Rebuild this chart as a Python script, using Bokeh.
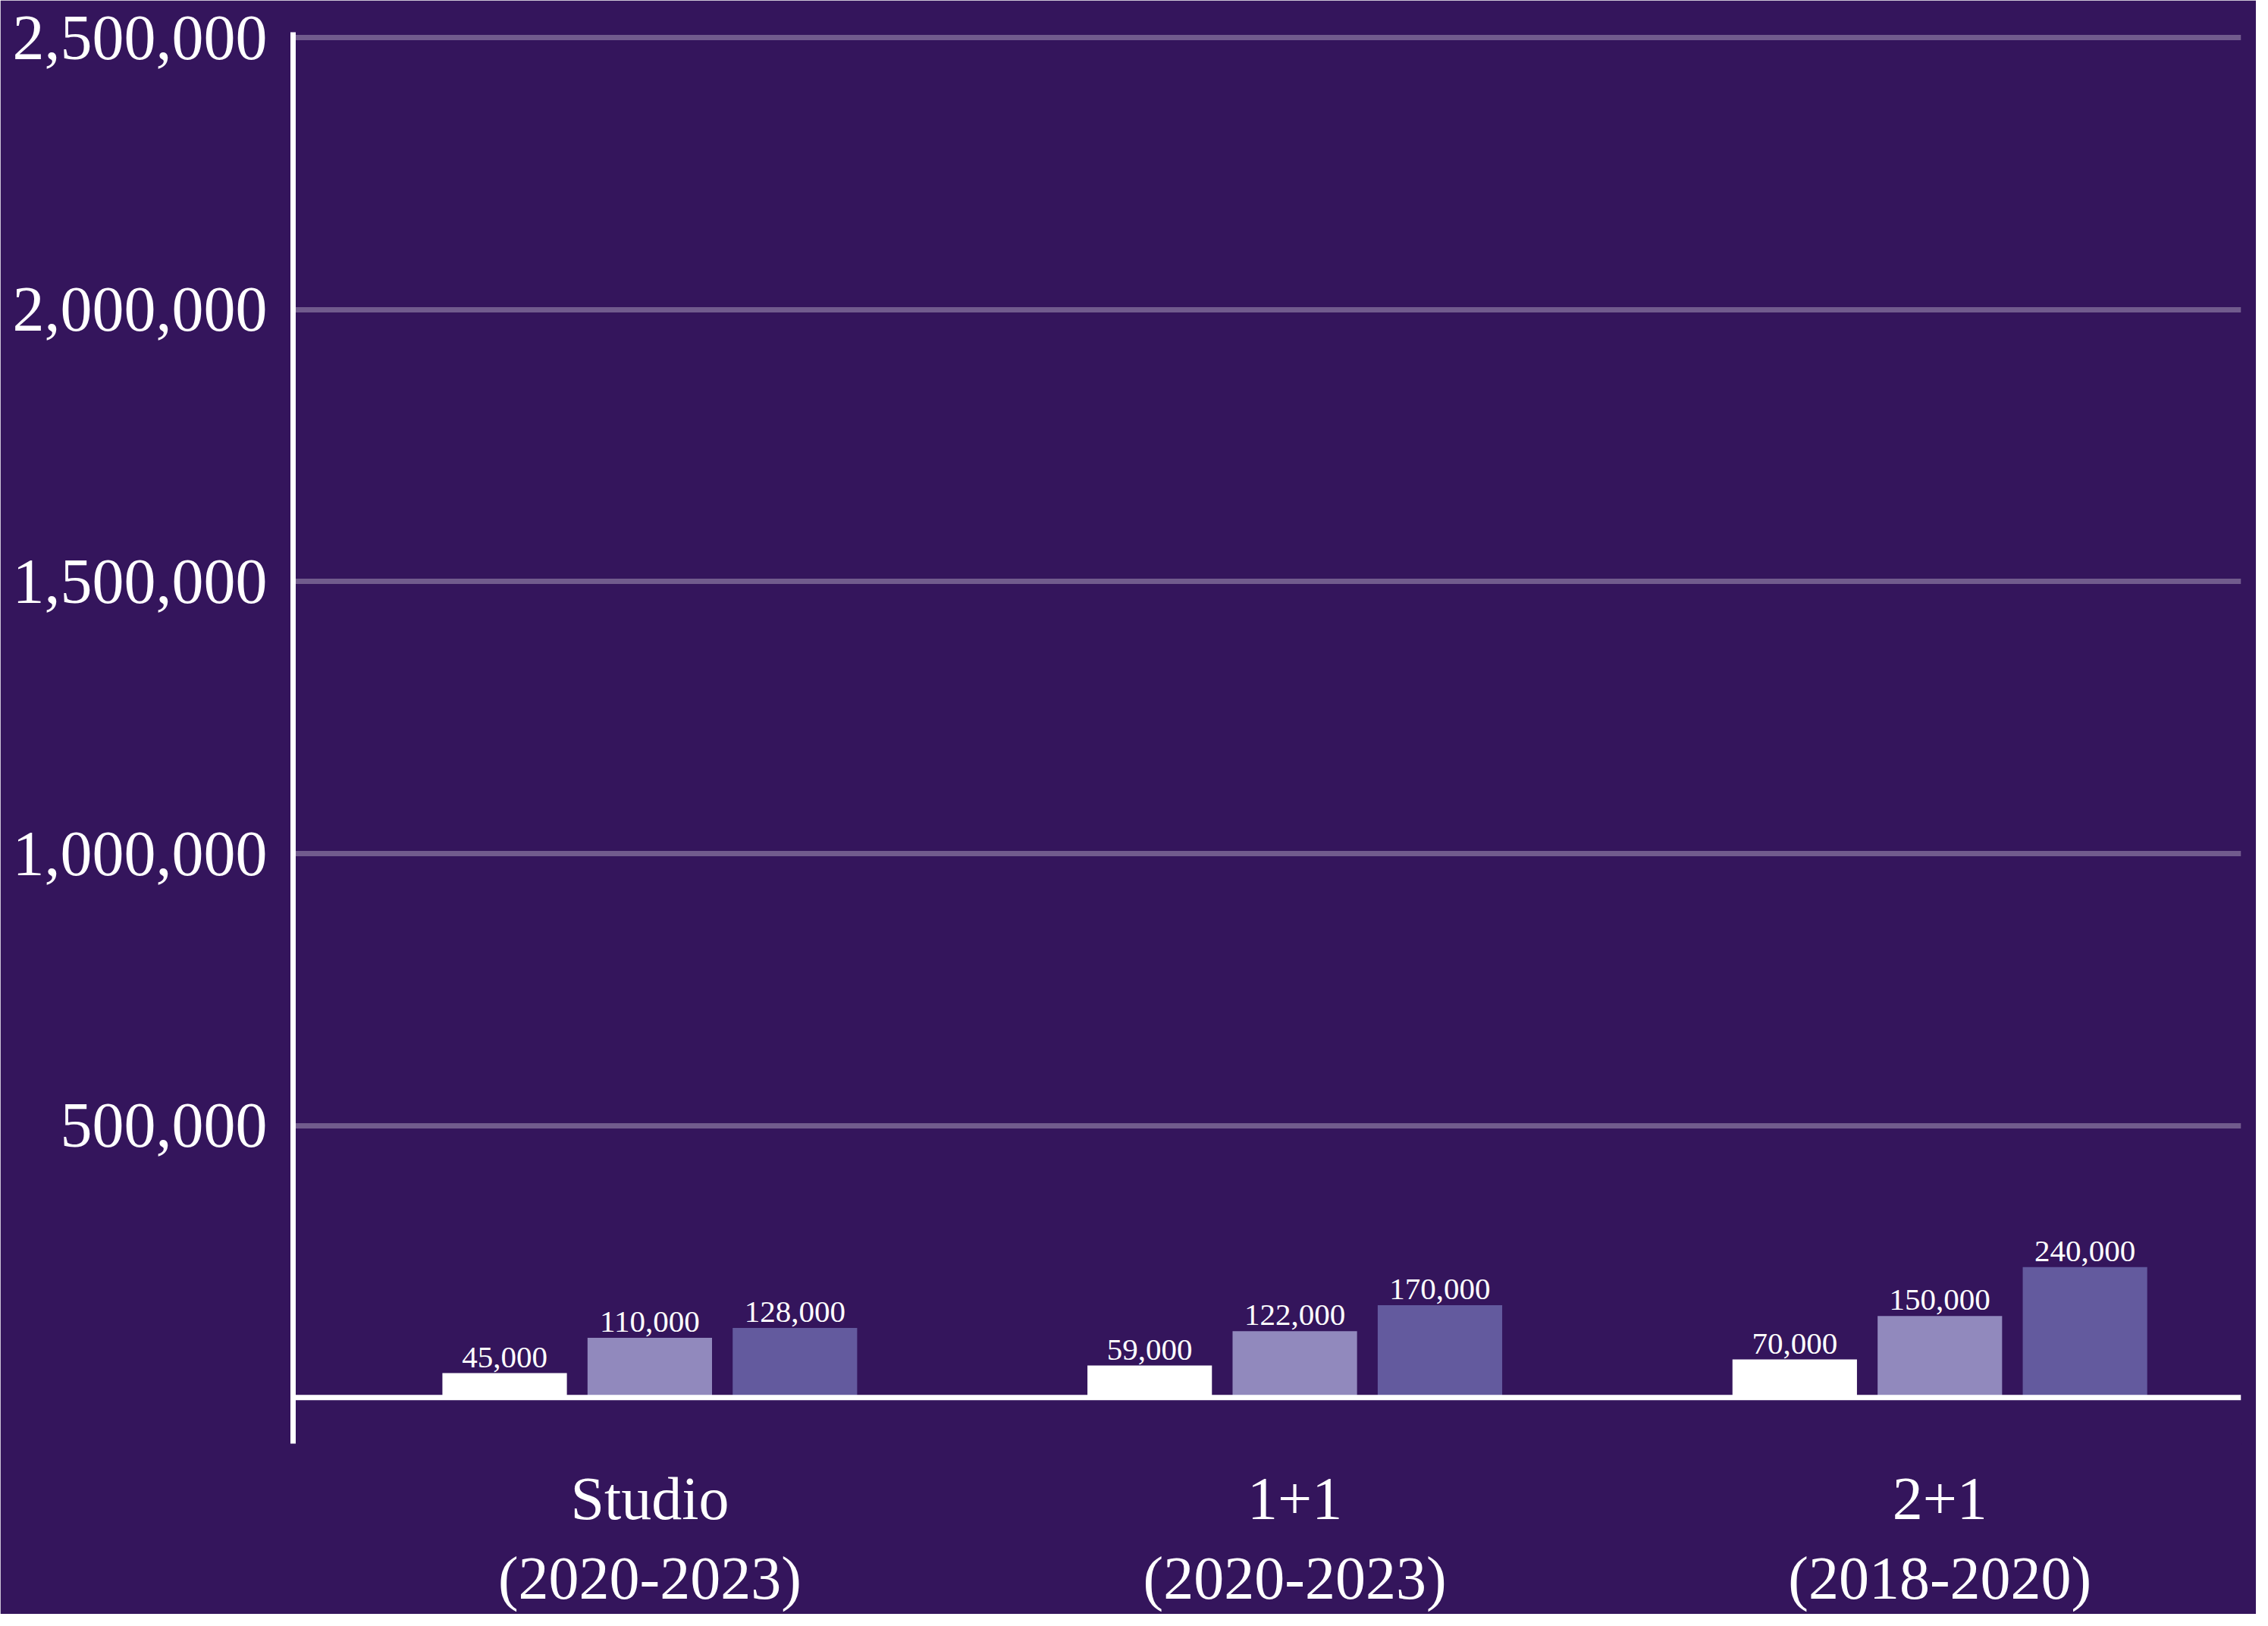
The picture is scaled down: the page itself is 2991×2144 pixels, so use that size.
from bokeh.plotting import figure
from bokeh.models import ColumnDataSource, Range1d, FixedTicker, NumeralTickFormatter, Span
from bokeh.transform import dodge
from bokeh.core.properties import value
from bokeh.embed import file_html
from bokeh.resources import INLINE

# ---- data ----
categories = ["Studio\n(2020-2023)", "1+1\n(2020-2023)", "2+1\n(2018-2020)"]
series_a = [45000, 59000, 70000]
series_b = [110000, 122000, 150000]
series_c = [128000, 170000, 240000]
y_ticks = [500000, 1000000, 1500000, 2000000, 2500000]

x_pos = list(range(len(categories)))
src = ColumnDataSource(dict(
    x=x_pos,
    a=series_a, b=series_b, c=series_c,
    a_lbl=[f"{v:,}" for v in series_a],
    b_lbl=[f"{v:,}" for v in series_b],
    c_lbl=[f"{v:,}" for v in series_c],
))

BG = "#34155c"
FONT = "Liberation Serif"

p = figure(width=2975, height=2128,
           x_range=Range1d(-0.553, 2.467), y_range=Range1d(-84600, 2510000),
           output_backend="svg", toolbar_location=None,
           min_border_left=386, min_border_right=20,
           min_border_top=42, min_border_bottom=215)
p.background_fill_color = BG
p.border_fill_color = BG
p.outline_line_color = BG
p.outline_line_width = 3

# x axis
p.xaxis.ticker = FixedTicker(ticks=x_pos)
p.xaxis.major_label_overrides = {i: c for i, c in zip(x_pos, categories)}
p.xaxis.axis_line_color = None
p.xaxis.major_tick_line_color = None
p.xaxis.minor_tick_line_color = None
p.xaxis.major_label_text_font = FONT
p.xaxis.major_label_text_font_size = "80px"
p.xaxis.major_label_text_color = "white"
p.xaxis.major_label_standoff = 22

# y axis
p.yaxis.ticker = FixedTicker(ticks=y_ticks)
p.yaxis.formatter = NumeralTickFormatter(format="0,0")
p.yaxis.axis_line_color = "white"
p.yaxis.axis_line_width = 7
p.yaxis.major_tick_line_color = None
p.yaxis.minor_tick_line_color = None
p.yaxis.major_label_text_font = FONT
p.yaxis.major_label_text_font_size = "84px"
p.yaxis.major_label_text_color = "white"
p.yaxis.major_label_standoff = 28

# grid
p.xgrid.visible = False
p.ygrid.ticker = FixedTicker(ticks=y_ticks)
p.ygrid.grid_line_color = "white"
p.ygrid.grid_line_alpha = 0.3
p.ygrid.grid_line_width = 7

W = 0.193
OFF = 0.225
for field, off, color in (("a", -OFF, "#ffffff"), ("b", 0.0, "#9189bd"), ("c", OFF, "#635a9e")):
    p.vbar(x=dodge("x", off), top=field, bottom=0, width=W, source=src,
           fill_color=color, line_color=None)
    p.text(x=dodge("x", off), y=field, text=field + "_lbl", source=src,
           text_align="center", text_baseline="bottom", y_offset=-8,
           text_font=value(FONT), text_font_size="41px", text_color="white")

p.add_layout(Span(location=0, dimension="width", line_color="white", line_width=7))

open("out.html", "w").write(file_html(p, INLINE))
